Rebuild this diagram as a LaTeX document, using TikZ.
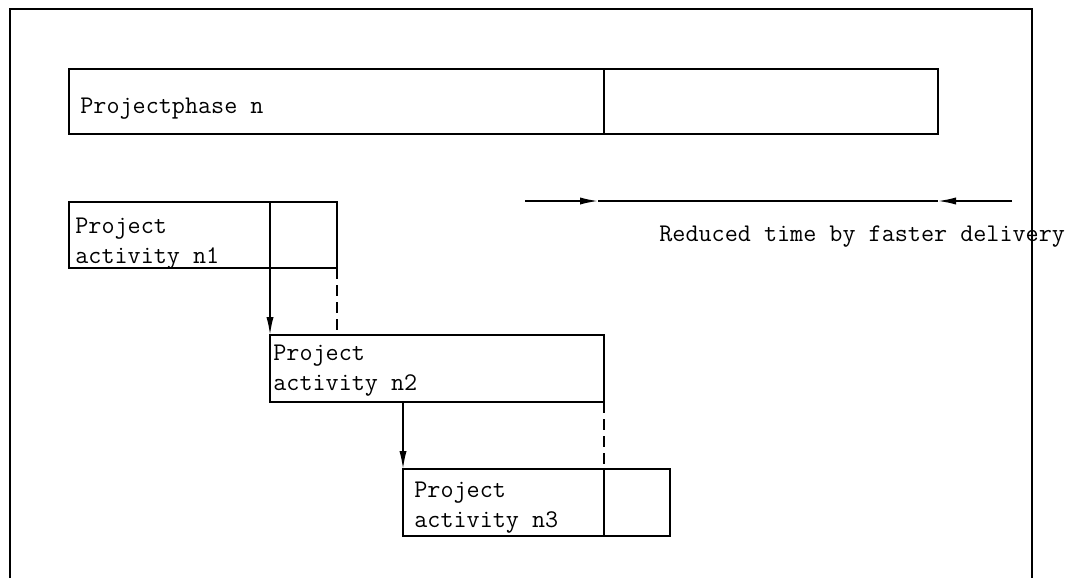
\documentclass[tikz,border=0pt]{standalone}
\usepackage{fontspec}
\usetikzlibrary{arrows.meta,positioning}

\begin{document}
\begin{tikzpicture}[
  x=0.5pt,y=-0.5pt,
  font=\ttfamily\fontsize{12.7}{15}\selectfont,
  >={Latex[length=9pt,width=3.6pt]},
  cell/.style={draw,line width=1pt,anchor=north west,inner sep=0pt,outer sep=0pt},
  txt/.style={anchor=base west,inner sep=0pt},
  flow/.style={->,line width=0.8pt},
  link/.style={line width=0.8pt,dash pattern=on 5.5pt off 3pt},
  frame/.style={line width=1pt},
]
\useasboundingbox (0,0) rectangle (1074,578);

% open frame round the plan
\draw[frame] (10,578) -- (10,9) -- (1032,9) -- (1032,578);

% ---- the project phase ----
\node[cell,minimum width=267.5pt,minimum height=32.5pt] (phasea) at (69,69) {};
\node[cell,minimum width=167pt,minimum height=32.5pt] (phaseb) at (phasea.north east) {};
\node[txt] (phasetxt) at (80,113) {Projectphase n};

% ---- activity n1 ----
\node[cell,minimum width=100.5pt,minimum height=33pt] (acta) at (69,202) {};
\node[cell,minimum width=33.5pt,minimum height=33pt] (actab) at (acta.north east) {};
\node[txt] (actat) at (75,233) {Project};
\node[txt] (actau) at (75,263) {activity n1};

% ---- activity n2 ----
\node[cell,minimum width=167pt,minimum height=33.5pt] (actb) at (270,335) {};
\node[txt] (actbt) at (273,360) {Project};
\node[txt] (actbu) at (273,390) {activity n2};

% ---- activity n3 ----
\node[cell,minimum width=100.5pt,minimum height=33.5pt] (actc) at (403,469) {};
\node[cell,minimum width=33pt,minimum height=33.5pt] (actcb) at (actc.north east) {};
\node[txt] (actct) at (414,497) {Project};
\node[txt] (actcu) at (414,527) {activity n3};

% ---- reduced time span ----
\coordinate (spanl) at (525,201);
\coordinate (spanr) at (1012,201);
\coordinate (tipl) at (598,201);
\coordinate (tipr) at (phaseb.south east |- spanl);
\draw[flow] (spanl) -- (tipl);
\draw[line width=0.8pt] (tipl) -- (tipr);
\draw[flow] (spanr) -- (tipr);
\node[txt] (spantxt) at (659,241) {Reduced time by faster delivery};

% hand-over between the activities
\draw[flow] (acta.south east) -- (acta.south east |- actb.north);
\draw[link] (actab.south east) -- (actab.south east |- actb.north);
\draw[flow] (actc.north west |- actb.south) -- (actc.north west);
\draw[link] (actb.south east) -- (actcb.north west);

\end{tikzpicture}
\end{document}
